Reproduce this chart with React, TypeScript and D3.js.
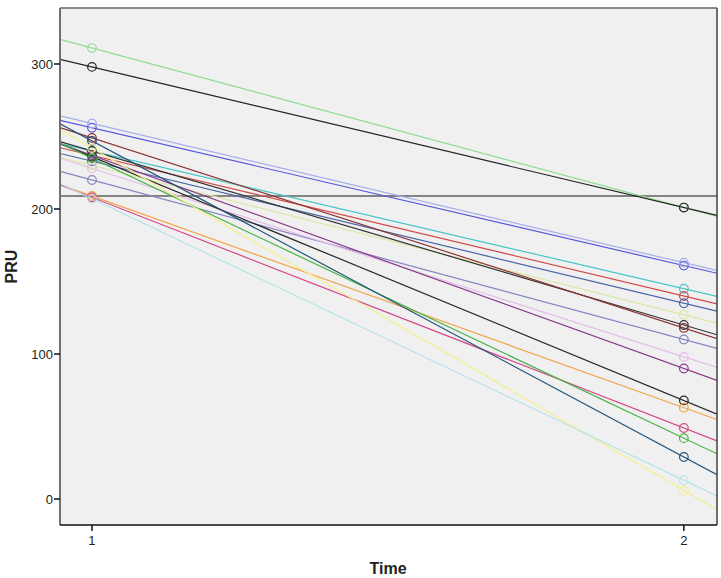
import React from "react";
import * as d3 from "d3";

const times = [1, 2];
const xTickLabels = ["1", "2"];
const yTicks = [0, 100, 200, 300];
const referenceValue = 209;

const subjects = ["s1","s2","s3","s4","s5","s6","s7","s8","s9","s10","s11","s12","s13","s14","s15","s16","s17","s18","s19","s20"];
const time1Values = [311, 298, 256, 259, 240, 237, 233, 230, 240, 249, 220, 228, 237, 236, 209, 208, 235, 247, 242, 207];
const time2Values = [201, 201, 161, 163, 145, 140, 135, 127, 120, 118, 110, 98, 90, 68, 63, 49, 42, 29, 6, 13];
const colors = ["#8fdc8f", "#222222", "#5858dc", "#a6aeea", "#45c6c6", "#d24848", "#4a66a8", "#dbe8a4", "#333333", "#8c3434", "#8484c4", "#e4bce8", "#8a3a8a", "#262626", "#f2a244", "#d4488a", "#46b446", "#245478", "#f2f08c", "#b8e2ea"];

const W = 721;
const H = 578;
const left = 60, right = 717, top = 8, bottom = 525;

export default function App() {
  const x = d3.scaleLinear().domain([0.946, 2.056]).range([left, right]);
  const y = d3.scaleLinear().domain([-17.9, 338.6]).range([bottom, top]);
  const [x0, x1] = x.domain();
  const line = d3.line<[number, number]>().x(d => x(d[0])).y(d => y(d[1]));

  return (
    <svg width={W} height={H} style={{ position: "absolute", left: 0, top: 0, fontFamily: "Liberation Sans, Arial, sans-serif" }}>
      <defs>
        <clipPath id="plot">
          <rect x={left} y={top} width={right - left} height={bottom - top} />
        </clipPath>
      </defs>
      <rect x={left} y={top} width={right - left} height={bottom - top} fill="#f0f0f0" />
      <g clipPath="url(#plot)">
        <line x1={left} x2={right} y1={y(referenceValue)} y2={y(referenceValue)} stroke="#606060" strokeWidth={1.5} />
        {subjects.map((s, i) => {
          const a = time1Values[i], b = time2Values[i];
          const slope = (b - a) / (times[1] - times[0]);
          const pts: [number, number][] = [
            [x0, a + slope * (x0 - times[0])],
            [x1, a + slope * (x1 - times[0])],
          ];
          return <path key={s} d={line(pts) || ""} fill="none" stroke={colors[i]} strokeWidth={1.2} />;
        })}
        {subjects.map((s, i) => (
          <g key={s + "c"}>
            <circle cx={x(times[0])} cy={y(time1Values[i])} r={4.3} fill="none" stroke={colors[i]} strokeWidth={1.2} />
            <circle cx={x(times[1])} cy={y(time2Values[i])} r={4.3} fill="none" stroke={colors[i]} strokeWidth={1.2} />
          </g>
        ))}
      </g>
      <line x1={left} x2={right} y1={top} y2={top} stroke="#8a8a8a" strokeWidth={2} />
      <line x1={right} x2={right} y1={top} y2={bottom} stroke="#404040" strokeWidth={1.5} />
      <line x1={left} x2={left} y1={top} y2={bottom} stroke="#707070" strokeWidth={2} />
      <line x1={left} x2={right} y1={bottom} y2={bottom} stroke="#111" strokeWidth={1.5} />
      {yTicks.map(t => (
        <g key={t}>
          <line x1={left - 6} x2={left} y1={y(t)} y2={y(t)} stroke="#111" strokeWidth={1.5} />
          <text x={left - 7} y={y(t)} dy="0.35em" textAnchor="end" fontSize={13} fill="#222">{t}</text>
        </g>
      ))}
      {times.map((t, i) => (
        <g key={t}>
          <line x1={x(t)} x2={x(t)} y1={bottom} y2={bottom + 6} stroke="#111" strokeWidth={1.5} />
          <text x={x(t)} y={bottom + 20} textAnchor="middle" fontSize={13} fill="#222">{xTickLabels[i]}</text>
        </g>
      ))}
      <text x={388} y={574} textAnchor="middle" fontSize={16} fontWeight="bold" fill="#222">Time</text>
      <text transform={`translate(17,${(top + bottom) / 2}) rotate(-90)`} textAnchor="middle" fontSize={16} fontWeight="bold" fill="#222">PRU</text>
    </svg>
  );
}
